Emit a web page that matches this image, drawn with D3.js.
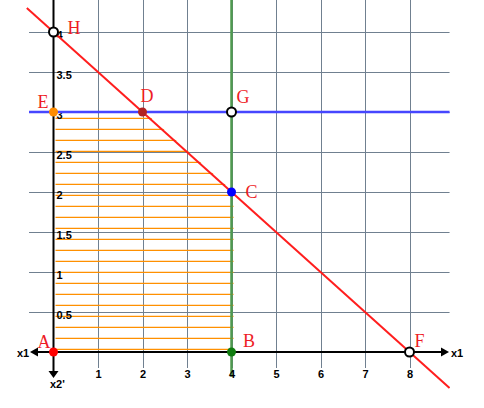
<!DOCTYPE html>
<html>
<head>
<meta charset="utf-8">
<script src="https://cdn.jsdelivr.net/npm/d3@7"></script>
<style>
  body { margin: 0; background: #fff; }
  svg { display: block; }
  .tick text { font-family: "Liberation Sans", Arial, sans-serif; font-weight: bold; font-size: 11px; fill: #000; }
  .lbl { font-family: "Liberation Serif", "DejaVu Serif", serif; font-size: 18px; fill: #ee1c25; }
  .axname { font-family: "Liberation Sans", Arial, sans-serif; font-weight: bold; font-size: 11px; }
</style>
</head>
<body>
<svg id="chart" width="484" height="408"></svg>
<script>
  'use strict';

  // grid / tick values
  var xTicks = [1, 2, 3, 4, 5, 6, 7, 8];
  var yTicks = [0.5, 1, 1.5, 2, 2.5, 3, 3.5, 4];

  // constraint lines (x1, x2)
  var redLine = [[-0.6, 4.3], [8.9, -0.45]];      // x1 + 2 x2 = 8
  var blueLine = [[-0.55, 3], [8.9, 3]];          // x2 = 3
  var greenLine = [[4, 4.42], [4, -0.31]];        // x1 = 4

  // feasible region A B C D E
  var region = [[0, 0], [4, 0], [4, 2], [2, 3], [0, 3]];

  // named points
  var points = [
    { name: 'A', x: 0, y: 0, fill: '#ff0000', hollow: false, dx: -16, dy: -4 },
    { name: 'B', x: 4, y: 0, fill: '#107c10', hollow: false, dx: 11.5, dy: -5 },
    { name: 'C', x: 4, y: 2, fill: '#0000ff', hollow: false, dx: 14, dy: 6 },
    { name: 'D', x: 2, y: 3, fill: '#b22222', hollow: false, dx: -2, dy: -10 },
    { name: 'E', x: 0, y: 3, fill: '#ff8c00', hollow: false, dx: -16, dy: -4 },
    { name: 'F', x: 8, y: 0, fill: '#fff', hollow: true, dx: 5, dy: -5 },
    { name: 'G', x: 4, y: 3, fill: '#fff', hollow: true, dx: 5, dy: -9 },
    { name: 'H', x: 0, y: 4, fill: '#fff', hollow: true, dx: 14, dy: 2 }
  ];

  var svg = d3.select('#chart');

  var x = d3.scaleLinear().domain([0, 8]).range([53.5, 409.5]);
  var y = d3.scaleLinear().domain([0, 4]).range([352, 32]);

  // hatch pattern
  var defs = svg.append('defs');
  var pat = defs.append('pattern')
    .attr('id', 'hatch')
    .attr('patternUnits', 'userSpaceOnUse')
    .attr('width', 484).attr('height', 11);
  pat.append('line')
    .attr('x1', 0).attr('x2', 484)
    .attr('y1', 8.3).attr('y2', 8.3)
    .attr('stroke', '#ff9000').attr('stroke-width', 1.3);

  // grid
  var grid = svg.append('g').attr('stroke', '#708090').attr('stroke-width', 1);
  grid.selectAll('line.v').data(xTicks).enter().append('line')
    .attr('class', 'v')
    .attr('x1', function(d) { return Math.round(x(d)) + 0.5; })
    .attr('x2', function(d) { return Math.round(x(d)) + 0.5; })
    .attr('y1', 0).attr('y2', y(-0.2));
  grid.selectAll('line.h').data(yTicks).enter().append('line')
    .attr('class', 'h')
    .attr('y1', function(d) { return y(d) + 0.5; })
    .attr('y2', function(d) { return y(d) + 0.5; })
    .attr('x1', x(-0.55)).attr('x2', x(8.9));

  // hatched region
  svg.append('polygon')
    .attr('points', region.map(function(p) { return [x(p[0]) + 2, y(p[1])].join(','); }).join(' '))
    .attr('fill', 'url(#hatch)');

  var line = d3.line().x(function(d) { return x(d[0]); }).y(function(d) { return y(d[1]); });

  svg.append('path').datum(greenLine).attr('d', line)
    .attr('stroke', '#4f9a4f').attr('stroke-width', 2.5).attr('fill', 'none');

  // axes
  var ax = svg.append('g').attr('stroke', '#000').attr('stroke-width', 2);
  ax.append('line').attr('x1', 34).attr('x2', 446).attr('y1', y(0)).attr('y2', y(0));
  ax.append('line').attr('x1', x(0)).attr('x2', x(0)).attr('y1', 0).attr('y2', 372);
  svg.append('path').attr('d', 'M449,' + y(0) + 'l-8,-4.5v9z');
  svg.append('path').attr('d', 'M30,' + y(0) + 'l8,-4.5v9z');
  svg.append('path').attr('d', 'M' + x(0) + ',378l-5,-7h10z');

  svg.append('text').attr('class', 'axname').attr('x', 451).attr('y', 357).text('x1');
  svg.append('text').attr('class', 'axname').attr('x', 17).attr('y', 357).text('x1');
  svg.append('text').attr('class', 'axname').attr('x', 50).attr('y', 388).text("x2'");

  // tick labels
  var xAxis = svg.append('g').attr('transform', 'translate(0,' + y(0) + ')')
    .call(d3.axisBottom(x).tickValues(xTicks).tickSize(0).tickFormat(d3.format('d')));
  xAxis.select('.domain').remove();
  xAxis.selectAll('text').attr('y', 26).attr('dy', 0);

  var yAxis = svg.append('g').attr('transform', 'translate(' + x(0) + ',0)')
    .call(d3.axisRight(y).tickValues(yTicks).tickSize(0).tickFormat(d3.format('~g')));
  yAxis.select('.domain').remove();
  yAxis.selectAll('text').attr('x', 3).attr('y', 6).attr('dy', 0);

  svg.append('path').datum(blueLine).attr('d', line)
    .attr('stroke', '#4646ff').attr('stroke-width', 2.5).attr('fill', 'none');
  svg.append('path').datum(redLine).attr('d', line)
    .attr('stroke', '#ff1e1e').attr('stroke-width', 2).attr('fill', 'none');

  // points
  svg.selectAll('circle.pt').data(points).enter().append('circle')
    .attr('class', 'pt')
    .attr('cx', function(d) { return x(d.x); })
    .attr('cy', function(d) { return y(d.y); })
    .attr('r', 4.5)
    .attr('fill', function(d) { return d.fill; })
    .attr('stroke', function(d) { return d.hollow ? '#000' : 'none'; })
    .attr('stroke-width', 2);

  svg.selectAll('text.lbl').data(points).enter().append('text')
    .attr('class', 'lbl')
    .attr('x', function(d) { return x(d.x) + d.dx; })
    .attr('y', function(d) { return y(d.y) + d.dy; })
    .text(function(d) { return d.name; });
</script>
</body>
</html>
